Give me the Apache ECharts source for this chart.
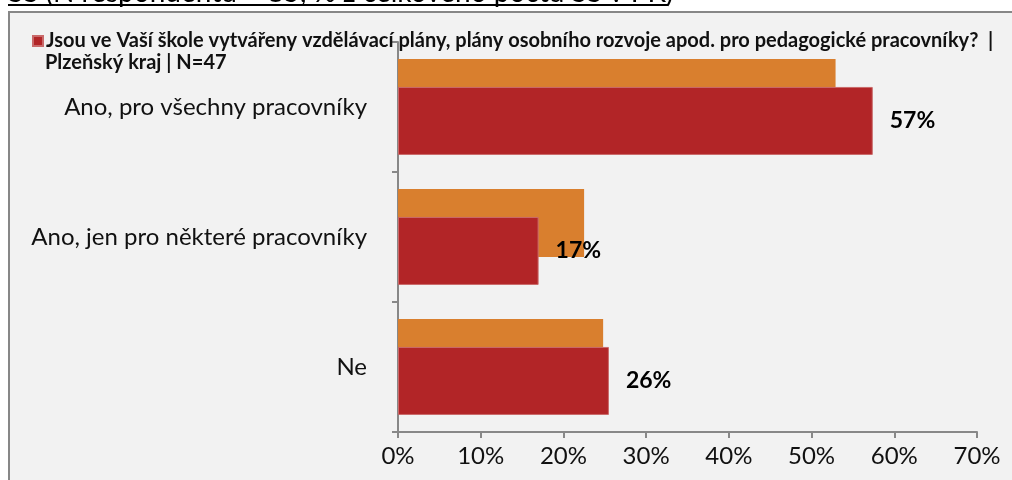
<!DOCTYPE html>
<html>
<head>
<meta charset="utf-8">
<script src="https://cdn.jsdelivr.net/npm/echarts@6/dist/echarts.min.js"></script>
<style>
  html, body { margin: 0; padding: 0; background: #ffffff; }
  #chart { width: 1012px; height: 480px; }
</style>
</head>
<body>
<div id="chart"></div>
<script>
// Answer categories (top to bottom)
const categories = ['Ano, pro všechny pracovníky', 'Ano, jen pro některé pracovníky', 'Ne'];
// Share of schools in the region (%), N=47
const regionValues = [57.4, 17.0, 25.5];
// Comparison share (%), drawn behind the regional bars
const compareValues = [52.9, 22.5, 24.8];
// Value axis ticks (%)
const xTickMin = 0;
const xTickMax = 70;
const xTickStep = 10;

const legendLine1 = 'Jsou ve Vaší škole vytvářeny vzdělávací plány, plány osobního rozvoje apod. pro pedagogické pracovníky?  |';
const legendLine2 = 'Plzeňský kraj | N=47';
const headerText = 'SŠ (N respondentů = 85, % z celkového počtu SŠ v PK)';

const FONT = 'Lato, "Noto Sans", sans-serif';
const RED = '#B22527';
const ORANGE = '#D97F2E';
const AXIS = '#888888';

const chart = echarts.init(document.getElementById('chart'), null, { renderer: 'canvas' });

chart.setOption({
  backgroundColor: '#ffffff',
  animation: false,
  textStyle: { fontFamily: FONT },
  graphic: [
    {
      type: 'rect',
      z: -10,
      shape: { x: 9, y: 12, width: 1010, height: 475 },
      style: { fill: '#F2F2F2', stroke: '#878787', lineWidth: 2 }
    },
    {
      type: 'text',
      z: 5,
      x: 8,
      y: 7,
      style: {
        text: headerText,
        font: '28px ' + FONT,
        fill: '#000000',
        verticalAlign: 'bottom'
      }
    },
    {
      type: 'line',
      z: 5,
      shape: { x1: 8, y1: 5, x2: 668, y2: 5 },
      style: { stroke: '#000000', lineWidth: 2 }
    }
  ],
  title: {
    text: legendLine2,
    left: 45,
    top: 53,
    padding: 0,
    textStyle: { fontFamily: FONT, fontWeight: 'bold', fontSize: 20, color: '#111111' }
  },
  legend: {
    data: [legendLine1],
    left: 32,
    top: 31,
    padding: 0,
    icon: 'rect',
    itemWidth: 10,
    itemHeight: 10,
    itemGap: 4,
    selectedMode: false,
    textStyle: { fontFamily: FONT, fontWeight: 'bold', fontSize: 20, color: '#111111', padding: [0, 0, 0, -2] }
  },
  grid: { left: 398, right: 35, top: 42, bottom: 48, containLabel: false },
  xAxis: {
    type: 'value',
    min: xTickMin,
    max: xTickMax,
    interval: xTickStep,
    axisLine: { show: true, lineStyle: { color: AXIS, width: 2 } },
    axisTick: { show: true, length: 6, lineStyle: { color: AXIS, width: 2 } },
    splitLine: { show: false },
    axisLabel: {
      formatter: '{value}%',
      margin: 12,
      fontFamily: FONT,
      fontSize: 24,
      color: '#111111'
    }
  },
  yAxis: {
    type: 'category',
    inverse: true,
    data: categories,
    axisLine: { show: true, lineStyle: { color: AXIS, width: 2 } },
    axisTick: { show: true, length: 6, lineStyle: { color: AXIS, width: 2 } },
    axisLabel: {
      margin: 31,
      fontFamily: FONT,
      fontSize: 24,
      color: '#111111'
    }
  },
  series: [
    {
      name: 'Srovnání',
      type: 'bar',
      data: compareValues,
      barWidth: 68,
      barGap: '-59%',
      itemStyle: { color: ORANGE },
      z: 2
    },
    {
      name: legendLine1,
      type: 'bar',
      data: regionValues,
      barWidth: 68,
      barGap: '-59%',
      itemStyle: { color: RED, borderColor: '#C96A6A', borderWidth: 1 },
      z: 3,
      label: {
        show: true,
        position: 'right',
        distance: 17,
        formatter: function (p) { return Math.round(p.value) + '%'; },
        fontFamily: FONT,
        fontWeight: 'bold',
        fontSize: 23,
        color: '#000000'
      }
    }
  ]
});
</script>
</body>
</html>
